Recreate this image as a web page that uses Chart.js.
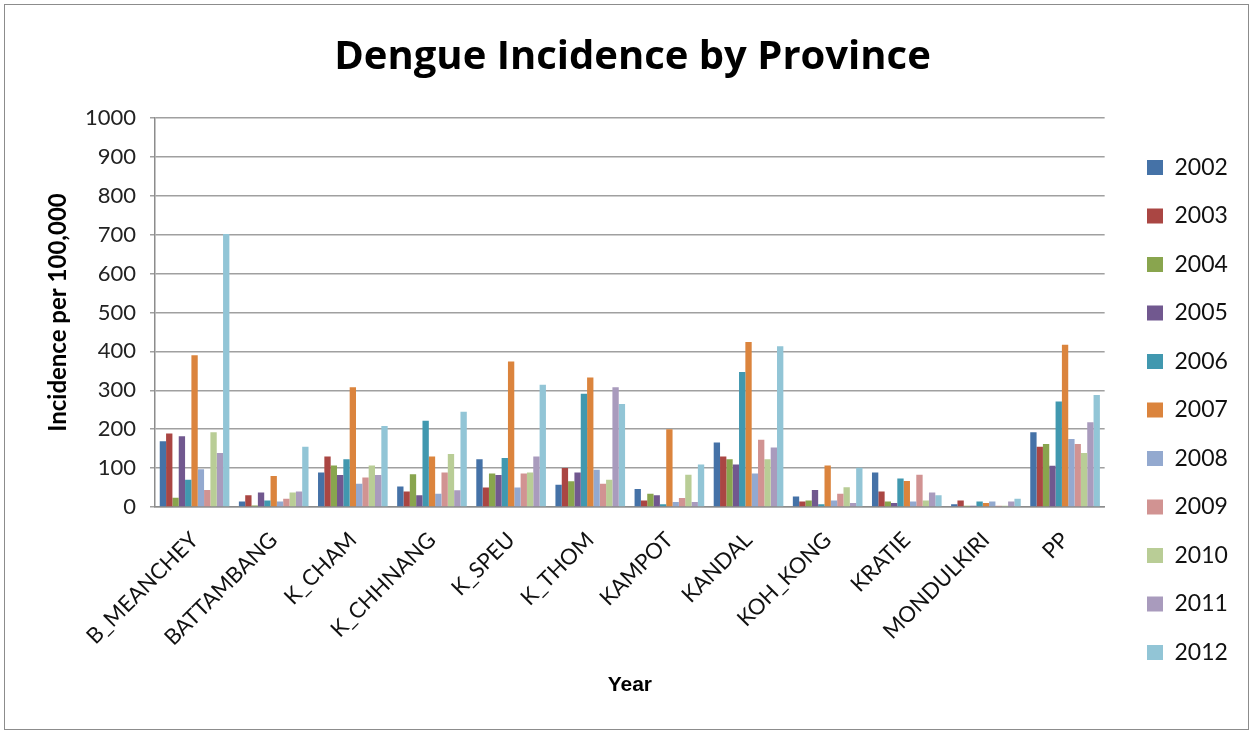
<!DOCTYPE html>
<html>
<head>
<meta charset="utf-8">
<script src="https://cdn.jsdelivr.net/npm/chart.js@4/dist/chart.umd.min.js"></script>
<style>
  html, body { margin: 0; padding: 0; background: #fff; }
  #frame { position: absolute; left: 4px; top: 4px; width: 1245px; height: 726px; border: 1px solid #8c8c8c; box-sizing: border-box; }
  #wrap { position: absolute; left: 0; top: 0; width: 1255px; height: 734px; }
</style>
</head>
<body>
<div id="frame"></div>
<div id="wrap"><canvas id="c" width="1255" height="734"></canvas></div>
<script>
const provinces = ['B_MEANCHEY', 'BATTAMBANG', 'K_CHAM', 'K_CHHNANG', 'K_SPEU', 'K_THOM',
                   'KAMPOT', 'KANDAL', 'KOH_KONG', 'KRATIE', 'MONDULKIRI', 'PP'];
const years = ['2002', '2003', '2004', '2005', '2006', '2007', '2008', '2009', '2010', '2011', '2012'];

// Incidence per 100,000, one array per year, in province order
const y2002 = [169, 14, 89, 53, 123, 57, 46, 166, 27, 89, 7, 192];
const y2003 = [189, 30, 130, 40, 50, 100, 17, 130, 14, 40, 17, 155];
const y2004 = [24, 4, 107, 84, 86, 66, 34, 123, 17, 14, 3, 162];
const y2005 = [182, 37, 82, 30, 82, 89, 30, 109, 44, 10, 3, 106];
const y2006 = [70, 17, 123, 222, 126, 291, 7, 347, 7, 73, 14, 271];
const y2007 = [390, 80, 308, 130, 374, 333, 200, 424, 107, 67, 10, 417];
const y2008 = [97, 14, 60, 34, 50, 96, 13, 86, 17, 14, 14, 175];
const y2009 = [44, 21, 76, 89, 86, 60, 23, 173, 34, 83, 3, 162];
const y2010 = [192, 37, 107, 136, 89, 70, 83, 123, 51, 17, 3, 139];
const y2011 = [139, 40, 82, 43, 130, 308, 13, 153, 10, 37, 14, 218];
const y2012 = [702, 155, 208, 245, 314, 265, 109, 413, 101, 30, 21, 288];

const yTicks = [0, 100, 200, 300, 400, 500, 600, 700, 800, 900, 1000];

const seriesValues = [y2002, y2003, y2004, y2005, y2006, y2007, y2008, y2009, y2010, y2011, y2012];
const seriesColors = ['#4572a7', '#aa4643', '#89a54e', '#71588f', '#4198af', '#db843d',
                      '#93a9cf', '#d19392', '#b9cd96', '#a99bbd', '#92c5d6'];

const datasets = years.map((yr, i) => ({
  label: yr,
  data: seriesValues[i],
  backgroundColor: seriesColors[i],
  borderWidth: 0,
  categoryPercentage: 0.88,
  barPercentage: 1.0
}));

const PAD_LEFT = 44, PAD_RIGHT = 34, PAD_TOP = 20, PAD_BOTTOM = 10;
const CHART_LEFT = 155, CHART_BOTTOM = 507;
const LEGEND_PAD = 25.5, LEGEND_BOX_X = 1147, LEGEND_DROP = 38;

// Moves the legend block right and down, beside the plot area
const legendPlacement = {
  id: 'legendPlacement',
  afterLayout(chart) {
    const lg = chart.legend;
    const dx = (LEGEND_BOX_X - LEGEND_PAD) - lg.left;
    lg.left += dx; lg.right += dx;
    lg.top += LEGEND_DROP; lg.bottom += LEGEND_DROP;
  }
};

new Chart(document.getElementById('c'), {
  type: 'bar',
  data: { labels: provinces, datasets },
  plugins: [legendPlacement],
  options: {
    responsive: false,
    animation: false,
    layout: { padding: { left: PAD_LEFT, right: PAD_RIGHT, top: PAD_TOP, bottom: PAD_BOTTOM } },
    plugins: {
      title: {
        display: true,
        text: 'Dengue Incidence by Province',
        color: '#000',
        font: { family: 'Open Sans', size: 40, weight: 'bold' },
        padding: { top: 14, bottom: 36 }
      },
      legend: {
        position: 'right',
        align: 'center',
        labels: {
          color: '#111',
          font: { family: 'Lato', size: 23 },
          boxWidth: 16,
          boxHeight: 15,
          padding: LEGEND_PAD
        }
      },
      tooltip: { enabled: false }
    },
    scales: {
      x: {
        grid: { display: false },
        border: { display: true, color: '#8c8c8c', width: 1.5 },
        ticks: {
          color: '#111',
          font: { family: 'Lato', size: 22 },
          minRotation: 45,
          maxRotation: 45,
          autoSkip: false,
          padding: 12
        },
        title: {
          display: true,
          text: 'Year',
          color: '#000',
          font: { family: 'Liberation Sans', size: 21, weight: 'bold' },
          padding: { top: 8, bottom: 26 }
        },
        afterFit(scale) { scale.height = 734 - CHART_BOTTOM - PAD_BOTTOM; }
      },
      y: {
        min: 0,
        max: 1000,
        afterBuildTicks(scale) { scale.ticks = yTicks.map(v => ({ value: v })); },
        grid: { color: '#a0a0a0', lineWidth: 1.5, tickLength: 5, drawTicks: true },
        border: { display: true, color: '#8c8c8c', width: 1.5 },
        ticks: {
          color: '#222',
          font: { family: 'Lato', size: 22 },
          padding: 14,
          callback: v => String(v)
        },
        title: {
          display: true,
          text: 'Incidence per 100,000',
          color: '#000',
          font: { family: 'Lato', size: 24, weight: 'bold' },
          padding: { top: 0, bottom: 8 }
        },
        afterFit(scale) { scale.width = CHART_LEFT - PAD_LEFT; }
      }
    }
  }
});
</script>
</body>
</html>
